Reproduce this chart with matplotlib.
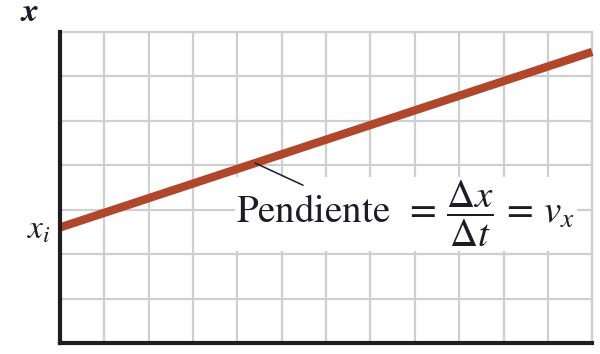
import numpy as np
import matplotlib.pyplot as plt

plt.rcParams["mathtext.fontset"] = "stix"
plt.rcParams["font.family"] = "STIXGeneral"

# time grid (12 cells) and position grid (7 cells)
t_line = [0, 12]
x_line = [2.6, 6.55]
t_ticks = np.arange(0, 13)
x_ticks = np.arange(0, 8)

line_color = "#b0472b"
grid_color = "#cfcfcf"
ink = "#1c1c28"

fig = plt.figure(figsize=(6, 3.54), dpi=100)
ax = fig.add_axes([0.1, 0.031, 0.887, 0.879])

ax.set_xlim(0, 12)
ax.set_ylim(0, 7)
ax.set_xticks(t_ticks)
ax.set_yticks(x_ticks)
ax.tick_params(length=0, labelbottom=False, labelleft=False)
ax.grid(True, color=grid_color, lw=1.6)
ax.set_axisbelow(True)

for side in ("left", "bottom"):
    ax.spines[side].set_color("#1e1e1e")
    ax.spines[side].set_linewidth(3)
    ax.spines[side].set_zorder(5)
for side in ("top", "right"):
    ax.spines[side].set_color(grid_color)
    ax.spines[side].set_linewidth(1.6)

ax.plot(t_line, x_line, color=line_color, lw=6, solid_capstyle="butt", zorder=4,
        clip_on=False)

# slope label with leader line
slope = (x_line[1] - x_line[0]) / (t_line[1] - t_line[0])
t_tip = 4.4
ax.annotate("", xy=(t_tip, x_line[0] + slope * t_tip), xytext=(5.48, 3.55),
            arrowprops=dict(arrowstyle="-", color=ink, lw=1.1,
                            shrinkA=0, shrinkB=0), zorder=7)
ax.text(7.8, 2.9,
        r"Pendiente $\,=\,\dfrac{\Delta x}{\Delta t}\,=\,v_x$",
        ha="center", va="center", fontsize=28, color=ink, zorder=6,
        bbox=dict(facecolor="white", edgecolor="none", pad=1))

# axis labels
fig.text(0.05, 0.962, r"$\boldsymbol{x}$", ha="center", va="center",
         fontsize=24, color=ink)
ax.text(-0.2, x_line[0] - 0.08, r"$x_i$", ha="right", va="center",
        fontsize=24, color=ink)

fig.savefig("out.png", dpi=100)
